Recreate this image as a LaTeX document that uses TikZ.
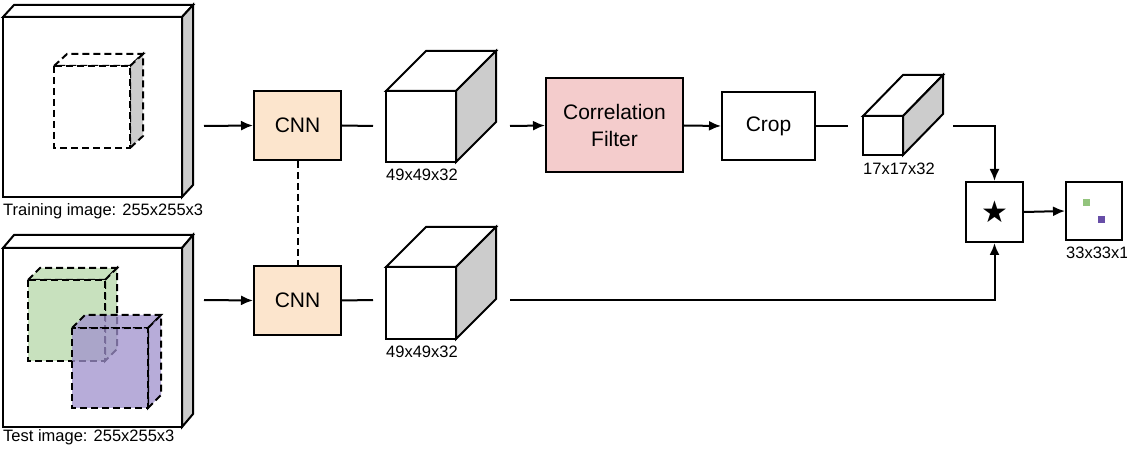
\documentclass[tikz,border=0pt]{standalone}
\usepackage{fontspec}
\setmainfont{Liberation Sans}
\newfontfamily\symfont{DejaVu Sans}
\usetikzlibrary{arrows.meta}
\definecolor{sidegray}{RGB}{204,204,204}
\definecolor{cnnfill}{RGB}{252,229,205}
\definecolor{cffill}{RGB}{244,204,204}
\definecolor{greenbox}{RGB}{200,225,190}
\definecolor{purplebox}{RGB}{160,145,205}
\definecolor{greendot}{RGB}{147,196,125}
\definecolor{purpledot}{RGB}{103,78,167}
\newcommand\mycube[8]{%
  \path[#7] (#1,#2) -- ({#1+#5},{#2-#6}) -- ({#3+#5},{#2-#6}) -- (#3,#2) -- cycle;
  \path[#8] (#3,#2) -- ({#3+#5},{#2-#6}) -- ({#3+#5},{#4-#6}) -- (#3,#4) -- cycle;
  \path[#7] (#1,#2) rectangle (#3,#4);
}
\tikzset{
  solidface/.style={draw=black, line width=2pt, fill=white},
  solidside/.style={draw=black, line width=2pt, fill=sidegray},
  dashface/.style={draw=black, line width=2pt, dash pattern=on 7pt off 4pt, fill=white},
  dashside/.style={draw=black, line width=2pt, dash pattern=on 7pt off 4pt, fill=sidegray},
  greenface/.style={draw=black, line width=2pt, dash pattern=on 7pt off 4pt, fill=greenbox},
  purpleface/.style={draw=black, line width=2pt, dash pattern=on 7pt off 4pt, fill=purplebox, fill opacity=0.75},
  procbox/.style={draw=black, line width=2pt, inner sep=0pt, align=center,
     font=\fontsize{21}{27}\selectfont},
  dimlabel/.style={inner sep=0pt, anchor=west, font=\fontsize{16.5}{19}\selectfont},
  conn/.style={line width=2pt},
  arr/.style={line width=2pt, -{Latex[length=12pt,width=10pt]}},
}
\begin{document}
\begin{tikzpicture}[x=1pt,y=-1pt]
\useasboundingbox (0,0) rectangle (1127,454);
% training image
\mycube{3}{17}{182}{197}{11}{12}{solidface}{solidside}
\mycube{54}{66}{130}{148}{13}{12}{dashface}{dashside}
\node[dimlabel] (trainlbl) at (3,211) {Training image: 255x255x3};
% test image
\mycube{3}{248}{182}{427}{11}{13}{solidface}{solidside}
\mycube{28}{280}{105}{361}{12}{12}{greenface}{greenface}
\mycube{72}{328}{148}{408}{13}{13}{purpleface}{purpleface}
\node[dimlabel] (testlbl) at (3,437) {Test image: 255x255x3};
% feature cubes
\mycube{386}{91}{456}{162}{40}{40}{solidface}{solidside}
\node[dimlabel] (f1lbl) at (386,175) {49x49x32};
\mycube{386}{267}{456}{339}{40}{40}{solidface}{solidside}
\node[dimlabel] (f2lbl) at (386,352) {49x49x32};
\mycube{863}{116}{903}{155}{40}{41}{solidface}{solidside}
\node[dimlabel] (f3lbl) at (863,169) {17x17x32};
% process boxes
\node[procbox, fill=cnnfill, minimum width=87pt, minimum height=69pt] (cnn1) at (297.5,125.5) {CNN};
\node[procbox, fill=cnnfill, minimum width=87pt, minimum height=69pt] (cnn2) at (297.5,300.5) {CNN};
\node[procbox, fill=cffill, minimum width=137pt, minimum height=94pt] (cf) at (614.5,125.5) {Correlation\\Filter};
\node[procbox, fill=white, minimum width=93pt, minimum height=68pt] (crop) at (768.5,126) {Crop};
\node[procbox, fill=white, minimum width=57pt, minimum height=60pt, font=\symfont\fontsize{30}{32}\selectfont] (conv) at (994.5,212) {★};
\node[procbox, fill=white, minimum width=56pt, minimum height=58pt] (out) at (1094,211) {};
\fill[greendot] (1082.5,199.5) rectangle (1089.5,206.5);
\fill[purpledot] (1097.5,216.5) rectangle (1104.5,223.5);
\node[dimlabel] (outlbl) at (1066,253) {33x33x1};
% connector endpoints
\coordinate (img1out) at (204,126);
\coordinate (img2out) at (204,300);
\coordinate (f1in) at (373,126);
\coordinate (f1out) at (510,126);
\coordinate (f2in) at (373,300);
\coordinate (f2out) at (510,300);
\coordinate (f3in) at (848,126);
\coordinate (f3out) at (953,126);
% connectors
\draw[arr] (img1out) -- (cnn1.west);
\draw[arr] (img2out) -- (cnn2.west);
\draw[conn] (cnn1.east) -- (f1in);
\draw[conn] (cnn2.east) -- (f2in);
\draw[arr] (f1out) -- (cf.west);
\draw[arr] (cf.west -| cf.east) -- (crop.west);
\draw[conn] (crop.east) -- (f3in);
\draw[arr] (f3out) -| (conv.north);
\draw[arr] (f2out) -| (conv.south);
\draw[arr] (conv.east) -- (out.west);
\draw[conn, dash pattern=on 7pt off 4pt] (cnn1.south) -- (cnn2.north);
\end{tikzpicture}
\end{document}
